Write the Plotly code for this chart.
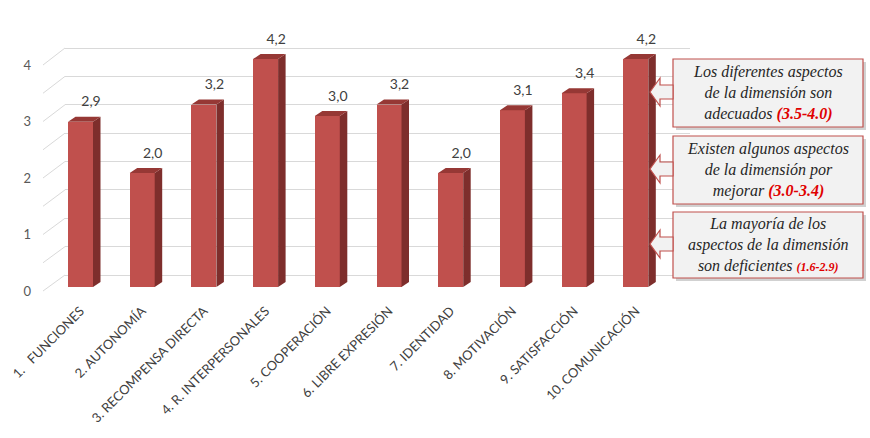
import plotly.graph_objects as go

categories = ["1.\u00a0\u00a0\u00a0FUNCIONES", "2. AUTONOMÍA", "3. RECOMPENSA DIRECTA",
              "4. R. INTERPERSONALES", "5. COOPERACIÓN", "6. LIBRE EXPRESIÓN",
              "7. IDENTIDAD", "8. MOTIVACIÓN", "9. SATISFACCIÓN", "10. COMUNICACIÓN"]
values = [2.9, 2.0, 3.2, 4.2, 3.0, 3.2, 2.0, 3.1, 3.4, 4.2]
y_ticks = [0, 1, 2, 3, 4]
grid_vals = [0, 0.5, 1, 1.5, 2, 2.5, 3, 3.5, 4]
axis_max = 4

callout_lines = [
    ["Los diferentes aspectos", "de la dimensión son", "adecuados "],
    ["Existen algunos aspectos", "de la dimensión por", "mejorar "],
    ["La mayoría de los", "aspectos de la dimensión", "son deficientes "],
]
callout_ranges = ["(3.5-4.0)", "(3.0-3.4)", "(1.6-2.9)"]

# ---- geometry (pixels) ----
FIG_W, FIG_H = 870, 438
L, R, T, B = 65, 690, 20, 300
PW, PH = R - L, B - T
c0, step = 80.5, 61.7          # bar front centre / spacing (px)
bar_w = 25 / step
dx = 7.5 / step
front0, front_u = 287, 57.0     # bar plane
back0, back_u = 275, 56.75      # back wall
tick0, tick_u = 291, 56.5       # front (label) plane

def px2paper_x(px):
    return (px - L) / PW

def py2paper_y(py):
    return (B - py) / PH

xr = [(L - c0) / step, (R - c0) / step]
yr_bar = [(front0 - B) / front_u, (front0 - T) / front_u]
yr_back = [(back0 - B) / back_u, (back0 - T) / back_u]
yr_tick = [(tick0 - B) / tick_u, (tick0 - T) / tick_u]
dy = 5 / front_u

x = list(range(len(values)))
h = [min(v, axis_max) for v in values]

fig = go.Figure()

# invisible traces to activate the gridline / tick axes
fig.add_trace(go.Scatter(x=[xr[0]], y=[0], yaxis="y2", mode="markers",
                         marker=dict(opacity=0), hoverinfo="skip"))
fig.add_trace(go.Scatter(x=[xr[0]], y=[0], yaxis="y3", mode="markers",
                         marker=dict(opacity=0), hoverinfo="skip"))

# front faces
fig.add_trace(go.Bar(x=x, y=h, width=bar_w, marker=dict(color="#C0504D", line=dict(width=0)),
                     hoverinfo="skip"))

# side and top faces
sx, sy = [], []
tx, ty = [], []
for xi, hi in zip(x, h):
    xl = xi - bar_w / 2
    xrr = xi + bar_w / 2
    sx += [xrr, xrr + dx, xrr + dx, xrr, xrr, None]
    sy += [0, dy, hi + dy, hi, 0, None]
    tx += [xl, xrr, xrr + dx, xl + dx, xl, None]
    ty += [hi, hi, hi + dy, hi + dy, hi, None]
fig.add_trace(go.Scatter(x=sx, y=sy, fill="toself", mode="lines", line=dict(width=0, color="#7E2E2C"),
                         fillcolor="#7E2E2C", hoverinfo="skip"))
fig.add_trace(go.Scatter(x=tx, y=ty, fill="toself", mode="lines", line=dict(width=0, color="#963835"),
                         fillcolor="#963835", hoverinfo="skip"))

# data labels
fig.add_trace(go.Scatter(x=[xi + 0.17 for xi in x], y=[hi + 0.33 for hi in h], mode="text",
                         text=[f"{v:.1f}".replace(".", ",") for v in values],
                         textposition="middle center",
                         textfont=dict(family="Lato", size=14, color="#404040"), hoverinfo="skip"))

shapes = []
# side-wall diagonals
for g in grid_vals:
    shapes.append(dict(type="line", xref="paper", yref="paper", layer="below",
                       x0=px2paper_x(43), y0=py2paper_y(tick0 - tick_u * g),
                       x1=px2paper_x(L), y1=py2paper_y(back0 - back_u * g),
                       line=dict(color="#D9D9D9", width=1)))

# callouts
box_x0, box_x1 = 673, 863
boxes = [(59, 127), (136, 204), (212, 278)]
for (y0, y1) in boxes:
    shapes.append(dict(type="rect", xref="paper", yref="paper",
                       x0=px2paper_x(box_x0 + 3), x1=px2paper_x(box_x1 + 3),
                       y0=py2paper_y(y0 + 3), y1=py2paper_y(y1 + 3),
                       fillcolor="rgba(0,0,0,0.18)", line=dict(width=0)))
    shapes.append(dict(type="rect", xref="paper", yref="paper",
                       x0=px2paper_x(box_x0), x1=px2paper_x(box_x1),
                       y0=py2paper_y(y0), y1=py2paper_y(y1),
                       fillcolor="#F2F2F2", line=dict(color="#C0504D", width=1.2)))
    cy = (y0 + y1) / 2 - 1
    pts = [(650, cy), (660, cy - 14), (660, cy - 7), (673, cy - 7), (673, cy + 7),
           (660, cy + 7), (660, cy + 14)]
    path = "M " + " L ".join(f"{px2paper_x(a):.5f},{py2paper_y(b):.5f}" for a, b in pts) + " Z"
    shapes.append(dict(type="path", xref="paper", yref="paper", path=path,
                       fillcolor="#F2F2F2", line=dict(color="#C0504D", width=1.2)))

SERIF = "Liberation Serif"
annotations = []
for i, ((y0, y1), lines, rng) in enumerate(zip(boxes, callout_lines, callout_ranges)):
    size = "12px" if i == 2 else "16px"
    txt = "<i>" + "<br>".join(lines[:-1]) + "<br>" + lines[-1] + \
          f"<b><span style='color:#E00000;font-size:{size}'>{rng}</span></b></i>"
    annotations.append(dict(xref="paper", yref="paper", x=px2paper_x((box_x0 + box_x1) / 2),
                            y=py2paper_y((y0 + y1) / 2), text=txt, showarrow=False,
                            xanchor="center", yanchor="middle", align="center",
                            font=dict(family=SERIF, size=16, color="#262626")))

fig.update_layout(
    width=FIG_W, height=FIG_H,
    margin=dict(l=L, r=FIG_W - R, t=T, b=FIG_H - B, autoexpand=False),
    paper_bgcolor="white", plot_bgcolor="white",
    showlegend=False, bargap=0,
    xaxis=dict(range=xr, tickvals=x, ticktext=categories, tickangle=-45,
               showgrid=False, zeroline=False, showline=False, automargin=False,
               tickfont=dict(family="Lato", size=13, color="#404040")),
    yaxis=dict(range=yr_bar, showgrid=False, zeroline=False, showticklabels=False),
    yaxis2=dict(range=yr_back, overlaying="y", side="left", tickvals=grid_vals,
                showgrid=True, gridcolor="#D9D9D9", gridwidth=1, zeroline=False,
                showticklabels=False, layer="below traces"),
    yaxis3=dict(range=yr_tick, overlaying="y", side="left", tickvals=y_ticks,
                showgrid=False, zeroline=False, ticklabelstandoff=33, automargin=False,
                tickfont=dict(family="Lato", size=13, color="#595959")),
    shapes=shapes, annotations=annotations,
)

fig.write_html("out.html", config={"displayModeBar": False},
               post_script="document.body.style.margin='0';document.body.style.overflow='hidden';")
